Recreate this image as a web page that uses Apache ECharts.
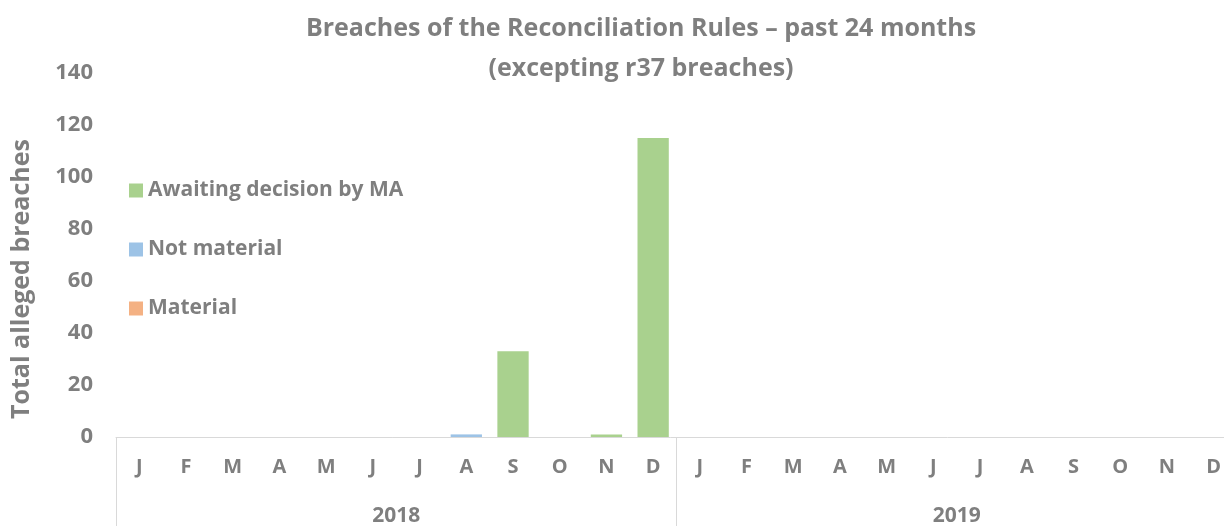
<!DOCTYPE html>
<html>
<head>
<meta charset="utf-8">
<script src="https://cdn.jsdelivr.net/npm/echarts@6/dist/echarts.min.js"></script>
<style>
  html, body { margin: 0; padding: 0; background: #fff; }
  #chart { width: 1224px; height: 526px; }
</style>
</head>
<body>
<div id="chart"></div>
<script>
var chartDom = document.getElementById('chart');
var myChart = echarts.init(chartDom);

// data
var monthLetters = ['J', 'F', 'M', 'A', 'M', 'J', 'J', 'A', 'S', 'O', 'N', 'D'];
var years = ['2018', '2019'];
var months = [];
years.forEach(function (y) {
  monthLetters.forEach(function (m, i) { months.push(y + '-' + (i + 1) + '|' + m); });
});
var awaiting =    [0, 0, 0, 0, 0, 0, 0, 0, 33, 0, 1, 115,  0, 0, 0, 0, 0, 0, 0, 0, 0, 0, 0, 0];
var notMaterial = [0, 0, 0, 0, 0, 0, 0, 1, 0, 0, 0, 0,     0, 0, 0, 0, 0, 0, 0, 0, 0, 0, 0, 0];
var material =    [0, 0, 0, 0, 0, 0, 0, 0, 0, 0, 0, 0,     0, 0, 0, 0, 0, 0, 0, 0, 0, 0, 0, 0];

var grey = '#7f7f7f';
var font = 'Open Sans';

var option = {
  animation: false,
  textStyle: { fontFamily: font },
  title: {
    text: 'Breaches of the Reconciliation Rules \u2013 past 24 months\n(excepting r37 breaches)',
    left: 636,
    textAlign: 'center',
    top: 4,
    textStyle: { color: grey, fontSize: 25, fontWeight: 'bold', lineHeight: 40, fontFamily: font }
  },
  legend: {
    orient: 'vertical',
    left: 124,
    top: 175,
    itemGap: 38,
    itemWidth: 14,
    itemHeight: 14,
    icon: 'rect',
    data: ['Awaiting decision by MA', 'Not material', 'Material'],
    textStyle: { color: grey, fontSize: 21, fontWeight: 'bold', fontFamily: font }
  },
  grid: { left: 116, width: 1121, top: 73, bottom: 89, outerBoundsMode: 'none' },
  xAxis: [
    {
      type: 'category',
      data: months,
      axisLine: { lineStyle: { color: '#d9d9d9' } },
      axisTick: { show: false },
      axisLabel: {
        interval: 0, margin: 20, color: grey, fontSize: 20, fontWeight: 'bold',
        formatter: function (v) { return v.split('|')[1]; }
      }
    },
    {
      type: 'category',
      position: 'bottom',
      data: years,
      axisLine: { show: false },
      axisTick: { show: true, length: 90, interval: 0, lineStyle: { color: '#d9d9d9' } },
      axisLabel: { margin: 69, color: grey, fontSize: 21, fontWeight: 'bold' }
    }
  ],
  yAxis: {
    type: 'value',
    min: 0,
    max: 140,
    interval: 20,
    name: 'Total alleged breaches',
    nameLocation: 'middle',
    nameGap: 82,
    nameTextStyle: { color: grey, fontSize: 25, fontWeight: 'bold', padding: [0, 48, 0, 0] },
    splitLine: { show: false },
    axisLine: { show: false },
    axisTick: { show: false },
    axisLabel: { color: grey, fontSize: 22, fontWeight: 'bold', margin: 23 }
  },
  series: [
    { name: 'Material', type: 'bar', stack: 'all', barWidth: '67%', data: material, itemStyle: { color: '#f4b183' } },
    { name: 'Not material', type: 'bar', stack: 'all', data: notMaterial, itemStyle: { color: '#9dc3e6' } },
    { name: 'Awaiting decision by MA', type: 'bar', stack: 'all', data: awaiting, itemStyle: { color: '#a9d18e' } }
  ]
};

option && myChart.setOption(option);
</script>
</body>
</html>
